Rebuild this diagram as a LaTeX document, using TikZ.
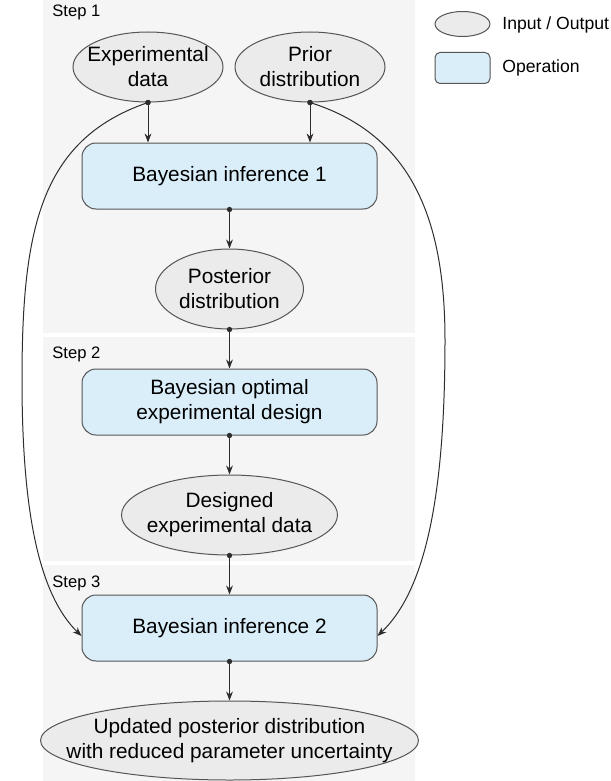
\documentclass[tikz,border=0pt]{standalone}
\usepackage{fontspec}
\setmainfont{Liberation Sans}
\usetikzlibrary{positioning,shapes.geometric,arrows.meta}
\definecolor{panelgray}{RGB}{245,245,245}
\definecolor{iogray}{RGB}{235,235,235}
\definecolor{opblue}{RGB}{218,238,250}
\definecolor{edgegray}{RGB}{85,85,85}
\definecolor{linkgray}{RGB}{45,45,45}
\tikzset{
  inout/.style = {ellipse, draw=edgegray, fill=iogray, line width=0.5pt, inner xsep=-16pt, inner ysep=0pt, align=center, font=\fontsize{10.4}{12.5}\selectfont},
  operation/.style = {rectangle, rounded corners=7pt, draw=edgegray, fill=opblue, line width=0.5pt, minimum width=147.5pt, minimum height=33pt, align=center, font=\fontsize{10.4}{12.5}\selectfont},
  link/.style = {draw=linkgray, line width=0.5pt, {Circle[length=2.6pt]}-{Stealth[length=4.5pt,width=3.4pt]}, shorten <=-1.3pt},
  steplabel/.style = {anchor=base west, inner sep=0pt, font=\fontsize{8.3}{10}\selectfont},
  legendtext/.style = {anchor=west, inner sep=0pt, font=\fontsize{8.8}{10.5}\selectfont},
  panel/.style = {fill=panelgray, draw=none}
}

\begin{document}
\begin{tikzpicture}[x=0.5pt, y=-0.5pt, node distance=19.5pt]
		\useasboundingbox (0,0) rectangle (610,781);
		% Panels
		\fill[panel] (43,0) rectangle (415,333);
		\fill[panel] (43,337) rectangle (415,561);
		\fill[panel] (43,565) rectangle (415,781);
		\node[steplabel] (s1) at (52,17) {Step 1};
		\node[steplabel] (s2) at (52,358) {Step 2};
		\node[steplabel] (s3) at (52,587) {Step 3};
		% Nodes
		\node[inout, minimum width=75pt, minimum height=35pt] (exp) at (148,67) {Experimental\\data};
		\node[inout, minimum width=75pt, minimum height=35pt] (pri) at (310,67) {Prior\\distribution};
		\node[operation] (bi1) at (229.5,176) {Bayesian inference 1};
		\node[inout, minimum width=74pt, minimum height=40pt] (post) [below=of bi1] {Posterior\\distribution};
		\node[operation] (boed) [below=of post] {Bayesian optimal\\experimental design};
		\node[inout, minimum width=108pt, minimum height=40pt] (des) [below=of boed] {Designed\\experimental data};
		\node[operation] (bi2) [below=of des] {Bayesian inference 2};
		\node[inout, minimum width=189pt, minimum height=39.5pt] (upd) [below=of bi2] {Updated posterior distribution\\with reduced parameter uncertainty};
		% Legend
		\node[inout, minimum width=27.5pt, minimum height=12.5pt] (lgio) at (462.5,24) {};
		\node[operation, minimum width=27.5pt, minimum height=15.5pt, rounded corners=2.5pt] (lgop) at (462.5,68) {};
		\node[legendtext] (lgiot) at (502,25) {Input / Output};
		\node[legendtext] (lgopt) at (502,68) {Operation};
		% Arrows
		\coordinate (lbend) at (22,380);
		\coordinate (rbend) at (445,340);
		\draw[link] (exp.south) -- (exp.south |- bi1.north);
		\draw[link] (pri.south) -- (pri.south |- bi1.north);
		\draw[link] (bi1.south) -- (post.north);
		\draw[link] (post.south) -- (boed.north);
		\draw[link] (boed.south) -- (des.north);
		\draw[link] (des.south) -- (bi2.north);
		\draw[link] (bi2.south) -- (upd.north);
		\draw[link] (exp.south) .. controls +(-108,38) and +(0,-150) .. (lbend)
			.. controls +(0,130) and +(-43,-42) .. ([yshift=-4pt]bi2.west);
		\draw[link] (pri.south) .. controls +(102,33) and +(0,-120) .. (rbend)
			.. controls +(0,160) and +(47,-45) .. ([yshift=-4pt]bi2.east);
	\end{tikzpicture}
\end{document}
